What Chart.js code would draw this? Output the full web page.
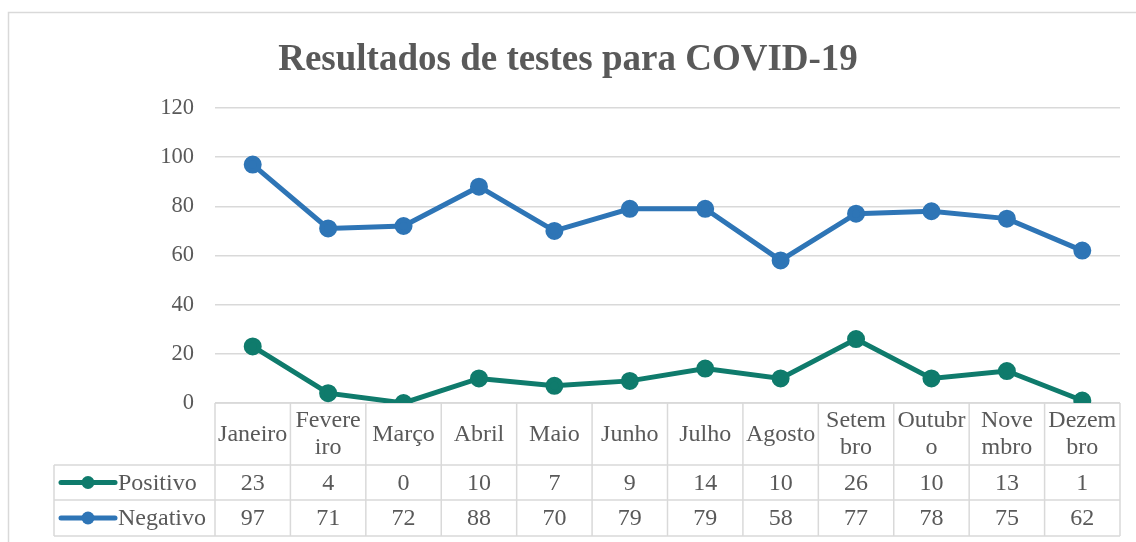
<!DOCTYPE html>
<html><head><meta charset="utf-8">
<script src="https://cdn.jsdelivr.net/npm/chart.js@4.4.1/dist/chart.umd.min.js"></script>
<style>html,body{margin:0;padding:0;background:#fff;overflow:hidden}#wrap{position:absolute;left:0;top:0;width:1136px;height:542px}</style>
</head><body><div id="wrap"><canvas id="c" width="1136" height="542"></canvas></div>
<script>
const months = ['Janeiro', ['Fevere','iro'], 'Março', 'Abril', 'Maio', 'Junho', 'Julho', 'Agosto', ['Setem','bro'], ['Outubr','o'], ['Nove','mbro'], ['Dezem','bro']];
const positivo = [23,4,0,10,7,9,14,10,26,10,13,1];
const negativo = [97,71,72,88,70,79,79,58,77,78,75,62];
const seriesNames = ['Positivo','Negativo'];
const seriesColors = ['#0F7B6C','#2E75B6'];
const chartTitle = 'Resultados de testes para COVID-19';
const yMin = 0, yMax = 120, yStep = 20;

const FONT = "'Liberation Serif', 'Times New Roman', serif";
const TXT = '#595959';
const GRID = '#d9d9d9';

const framePlugin = {
  id: 'frame',
  beforeDraw(chart) {
    const ctx = chart.ctx;
    ctx.save();
    ctx.strokeStyle = GRID; ctx.lineWidth = 1.5;
    ctx.strokeRect(8.5, 12.5, 1300, 700);
    ctx.restore();
  }
};

const tablePlugin = {
  id: 'dataTable',
  beforeDatasetsDraw(chart) {
    const {ctx, chartArea: a, scales: {x}} = chart;
    const n = months.length;
    const step = x.getPixelForValue(1) - x.getPixelForValue(0);
    const top = a.bottom, hdrB = top + 62, r1B = hdrB + 35, r2B = r1B + 36;
    const legL = 54;
    ctx.save();
    ctx.strokeStyle = GRID; ctx.lineWidth = 1.5;
    const hline = (x1, x2, y) => { ctx.beginPath(); ctx.moveTo(x1, y); ctx.lineTo(x2, y); ctx.stroke(); };
    const vline = (xx, y1, y2) => { ctx.beginPath(); ctx.moveTo(xx, y1); ctx.lineTo(xx, y2); ctx.stroke(); };
    hline(a.left, a.right, top);
    hline(legL, a.right, hdrB);
    hline(legL, a.right, r1B);
    hline(legL, a.right, r2B);
    vline(legL, hdrB, r2B);
    for (let i = 0; i <= n; i++) {
      const xx = i === 0 ? a.left : (i === n ? a.right : x.getPixelForValue(i) - step / 2);
      vline(xx, top, r2B);
    }
    ctx.fillStyle = TXT;
    ctx.font = '24px ' + FONT;
    ctx.textAlign = 'center'; ctx.textBaseline = 'middle';
    const hc = (top + hdrB) / 2;
    months.forEach((m, i) => {
      const cx = x.getPixelForValue(i);
      if (Array.isArray(m)) {
        ctx.fillText(m[0], cx, hc - 13);
        ctx.fillText(m[1], cx, hc + 14);
      } else {
        ctx.fillText(m, cx, hc + 1);
      }
    });
    const rows = [[positivo, (hdrB + r1B) / 2], [negativo, (r1B + r2B) / 2]];
    rows.forEach(([vals, cy], r) => {
      ctx.fillStyle = TXT;
      ctx.textAlign = 'center';
      vals.forEach((v, i) => ctx.fillText(String(v), x.getPixelForValue(i), cy + 1));
      ctx.strokeStyle = seriesColors[r]; ctx.lineWidth = 5; ctx.lineCap = 'round';
      hline(61, 115, cy);
      ctx.fillStyle = seriesColors[r];
      ctx.beginPath(); ctx.arc(88, cy, 6.5, 0, Math.PI * 2); ctx.fill();
      ctx.fillStyle = TXT; ctx.textAlign = 'left';
      ctx.fillText(seriesNames[r], 118, cy + 1);
      ctx.strokeStyle = GRID; ctx.lineWidth = 1.5; ctx.lineCap = 'butt';
    });
    ctx.restore();
  }
};

new Chart(document.getElementById('c'), {
  type: 'line',
  data: {
    labels: months,
    datasets: [
      { label: seriesNames[0], data: positivo, borderColor: seriesColors[0], backgroundColor: seriesColors[0],
        borderWidth: 5, pointRadius: 6.5, pointHoverRadius: 6.5, tension: 0 },
      { label: seriesNames[1], data: negativo, borderColor: seriesColors[1], backgroundColor: seriesColors[1],
        borderWidth: 5, pointRadius: 6.5, pointHoverRadius: 6.5, tension: 0 }
    ]
  },
  options: {
    responsive: false,
    animation: false,
    devicePixelRatio: 1,
    layout: { padding: { top: 12, left: 0, right: 0, bottom: 139 } },
    plugins: {
      legend: { display: false },
      tooltip: { enabled: false },
      title: {
        display: true, text: chartTitle, color: TXT,
        font: { family: FONT, size: 37, weight: 'bold' },
        padding: { top: 26, bottom: 25.6 }
      }
    },
    scales: {
      x: { type: 'category', offset: true, display: false, grid: { display: false } },
      y: {
        min: yMin, max: yMax,
        border: { display: false },
        grid: { color: GRID, lineWidth: 1.5, drawTicks: false },
        ticks: { stepSize: yStep, color: TXT, font: { family: FONT, size: 22.5 }, padding: 21 },
        afterFit(s) { s.width = 215; }
      },
      yr: {
        position: 'right', min: yMin, max: yMax,
        border: { display: false },
        grid: { display: false, drawTicks: false },
        ticks: { display: false },
        afterFit(s) { s.width = 16; }
      }
    }
  },
  plugins: [framePlugin, tablePlugin]
});
</script></body></html>
